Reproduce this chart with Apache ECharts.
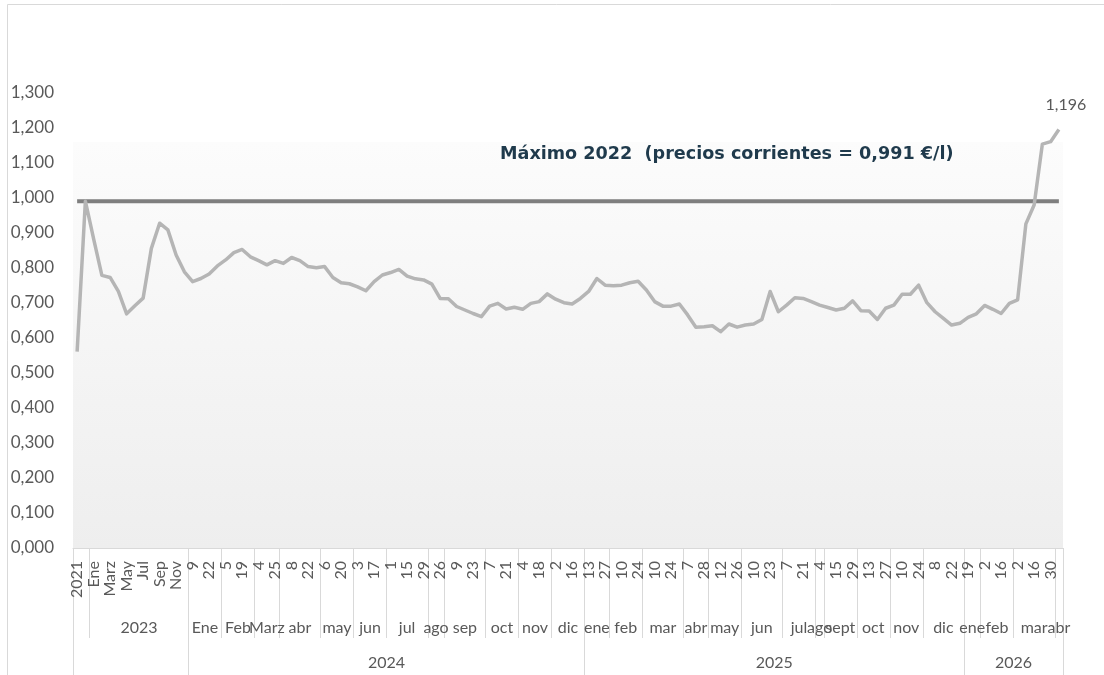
<!DOCTYPE html>
<html>
<head>
<meta charset="utf-8">
<script src="https://cdn.jsdelivr.net/npm/echarts@6/dist/echarts.min.js"></script>
<style>
  html, body { margin: 0; padding: 0; background: #fff; }
  #chart { width: 1104px; height: 675px; }
</style>
</head>
<body>
<div id="chart"></div>
<script>
// etiquetas del primer nivel (semana / mes)
const dayLabels = [
    '2021', '2022',
    'Ene', 'Feb', 'Marz', 'Abr', 'May', 'Jun', 'Jul', 'Ago', 'Sep', 'Oct', 'Nov', 'Dic',
    // 2024
    '9', '15', '22', '29',
    '5', '12', '19', '26',
    '4', '11', '25',
    '1', '8', '15', '22', '29',
    '6', '13', '20', '27',
    '3', '10', '17', '24',
    '1', '8', '15', '22', '29',
    '19', '26',
    '2', '9', '16', '23', '30',
    '7', '14', '21', '28',
    '4', '11', '18', '25',
    '2', '9', '16', '23',
    // 2025
    '13', '20', '27',
    '3', '10', '17', '24',
    '3', '10', '17', '24', '31',
    '7', '14', '28',
    '5', '12', '19', '26',
    '2', '10', '16', '23', '30',
    '7', '14', '21', '28',
    '4',
    '8', '15', '22', '29',
    '6', '13', '20', '27',
    '3', '10', '17', '24',
    '1', '8', '15', '22', '29',
    // 2026
    '19', '26',
    '2', '9', '16', '23',
    '2', '9', '16', '23', '30',
    '6'
];

// segundo nivel: [nombre, nº de categorías]
const monthGroups = [
    ['', 2], ['2023', 12],
    ['Ene', 4], ['Feb', 4], ['Marz', 3], ['abr', 5], ['may', 4], ['jun', 4],
    ['jul', 5], ['ago', 2], ['sep', 5], ['oct', 4], ['nov', 4], ['dic', 4],
    ['ene', 3], ['feb', 4], ['mar', 5], ['abr', 3], ['may', 4], ['jun', 5],
    ['jul', 4], ['ago', 1], ['sept', 4], ['oct', 4], ['nov', 4], ['dic', 5],
    ['ene', 2], ['feb', 4], ['mar', 5], ['abr', 1]
];

// tercer nivel: años
const yearGroups = [['', 14], ['2024', 48], ['2025', 46], ['2026', 12]];

// precio €/l
const prices = [
    0.561, 0.991,
    0.883, 0.779, 0.773, 0.733, 0.669, 0.692, 0.714, 0.856, 0.928, 0.909, 0.837, 0.789,
    0.761, 0.770, 0.783, 0.806,
    0.823, 0.844, 0.853, 0.832,
    0.821, 0.809, 0.821,
    0.813, 0.830, 0.821, 0.804, 0.801,
    0.804, 0.773, 0.758, 0.755,
    0.746, 0.735, 0.761, 0.780,
    0.787, 0.796, 0.777, 0.769, 0.766,
    0.754, 0.713,
    0.712, 0.690, 0.680, 0.670, 0.661,
    0.691, 0.699, 0.683, 0.688,
    0.682, 0.699, 0.704, 0.726,
    0.711, 0.701, 0.697, 0.713,
    0.733, 0.770, 0.751,
    0.749, 0.751, 0.758, 0.762,
    0.737, 0.704, 0.691, 0.691, 0.697,
    0.666, 0.631, 0.632,
    0.635, 0.618, 0.640, 0.631,
    0.637, 0.640, 0.653, 0.733, 0.675,
    0.694, 0.715, 0.713, 0.704,
    0.694,
    0.687, 0.680, 0.685, 0.706,
    0.678, 0.677, 0.653, 0.685,
    0.694, 0.725, 0.725, 0.751,
    0.701, 0.675, 0.656, 0.637, 0.642,
    0.659, 0.669,
    0.693, 0.682, 0.670, 0.699,
    0.709, 0.926, 0.980, 1.154, 1.161,
    1.196
];

const max2022 = 0.991;

const yTicks = { min: 0, max: 1.3, step: 0.1 };

const fmt = (v) => v.toFixed(3).replace('.', ',');
const FONT = 'Lato';
const TXT = '#595959';
const SEP = '#d9d9d9';

// ejes auxiliares a medio paso: el índice k está en la frontera k/2
function buildLevel(groups) {
    const total = groups.reduce((s, g) => s + g[1], 0);
    const keys = [];
    const labels = [];
    for (let k = 0; k <= 2 * total; k++) { keys.push('k' + k); labels.push(''); }
    const ticks = new Set([0, 2 * total]);
    let s = 0;
    groups.forEach(([name, cnt]) => {
        labels[2 * s + cnt] = name;
        ticks.add(2 * s);
        s += cnt;
    });
    return { keys, labels, ticks };
}
const level2 = buildLevel(monthGroups);
const level3 = buildLevel(yearGroups);

function levelAxis(level, tickLen, margin) {
    return {
        type: 'category',
        position: 'bottom',
        data: level.keys,
        boundaryGap: false,
        axisLine: { show: false },
        axisTick: {
            show: true,
            length: tickLen,
            interval: (i) => level.ticks.has(i),
            lineStyle: { color: SEP, width: 1 }
        },
        axisLabel: {
            interval: 0,
            margin: margin,
            color: TXT,
            fontFamily: FONT,
            fontSize: 16,
            formatter: (v, i) => level.labels[i]
        },
        splitLine: { show: false }
    };
}

const myChart = echarts.init(document.getElementById('chart'), null, { renderer: 'canvas' });

const lastIdx = prices.length - 1;

const option = {
    animation: false,
    backgroundColor: '#ffffff',
    title: {
        text: 'Máximo 2022  (precios corrientes = 0,991 €/l)',
        left: 495,
        top: 140,
        textStyle: { fontFamily: 'DejaVu Sans', fontSize: 17.6, fontWeight: 'bold', color: '#1f3a4c' }
    },
    graphic: [{
        type: 'rect',
        shape: { x: 7.5, y: 4.5, width: 1200, height: 800 },
        style: { fill: 'none', stroke: SEP, lineWidth: 1 },
        silent: true,
        z: -10
    }],
    grid: {
        left: 73,
        right: 41,
        top: 93,
        bottom: 127,
        show: true,
        borderWidth: 0,
        backgroundColor: {
            type: 'linear', x: 0, y: 0, x2: 0, y2: 1,
            colorStops: [
                { offset: 0, color: '#ffffff' },
                { offset: 0.107, color: '#ffffff' },
                { offset: 0.108, color: '#fcfcfc' },
                { offset: 1, color: '#eeeeee' }
            ]
        }
    },
    xAxis: [
        {
            type: 'category',
            data: dayLabels,
            boundaryGap: true,
            axisLine: { show: true, lineStyle: { color: SEP, width: 1 } },
            axisTick: { show: false },
            axisLabel: {
                interval: 1,
                rotate: 90,
                margin: 13,
                color: TXT,
                fontFamily: FONT,
                fontSize: 16
            },
            splitLine: { show: false }
        },
        levelAxis(level2, 90, 72),
        levelAxis(level3, 127, 107)
    ],
    yAxis: {
        type: 'value',
        min: yTicks.min,
        max: yTicks.max,
        interval: yTicks.step,
        axisLine: { show: false },
        axisTick: { show: false },
        splitLine: { show: false },
        axisLabel: {
            margin: 19,
            color: TXT,
            fontFamily: FONT,
            fontSize: 17,
            formatter: fmt
        }
    },
    series: [
        {
            name: 'Máximo 2022',
            type: 'line',
            xAxisIndex: 0,
            data: prices.map(() => max2022),
            symbol: 'none',
            lineStyle: { color: '#7f7f7f', width: 4 },
            z: 2
        },
        {
            name: 'Precio',
            type: 'line',
            xAxisIndex: 0,
            data: prices.map((v, i) => i === lastIdx ? {
                value: v,
                symbol: 'circle',
                symbolSize: 2,
                itemStyle: { color: 'rgba(0,0,0,0)' },
                label: {
                    show: true,
                    position: 'top',
                    distance: 16,
                    offset: [7, 0],
                    color: TXT,
                    fontFamily: FONT,
                    fontSize: 16,
                    formatter: (p) => fmt(p.value)
                }
            } : v),
            symbol: 'none',
            showSymbol: true,
            showAllSymbol: true,
            lineStyle: { color: '#b5b5b5', width: 3.5, join: 'round' },
            z: 3
        }
    ]
};

myChart.setOption(option, true);
</script>
</body>
</html>
